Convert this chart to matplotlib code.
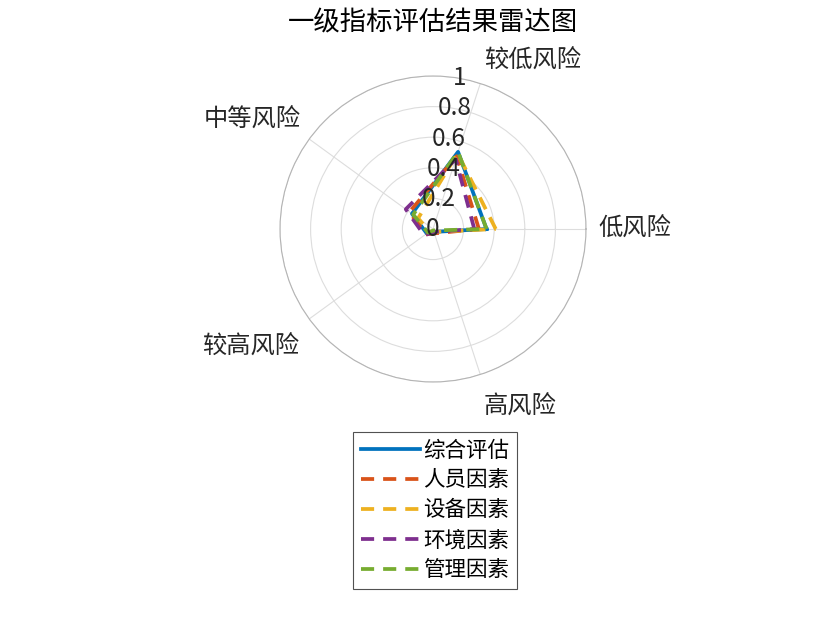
import numpy as np
import matplotlib
matplotlib.use("Agg")
import matplotlib.pyplot as plt

plt.rcParams['font.family'] = ['Noto Sans CJK SC', 'DejaVu Sans']

categories = ['低风险', '较低风险', '中等风险', '较高风险', '高风险']
series_names = ['综合评估', '人员因素', '设备因素', '环境因素', '管理因素']
v_overall = [0.35, 0.53, 0.17, 0.05, 0.02]
v_person = [0.30, 0.50, 0.19, 0.06, 0.03]
v_equip = [0.41, 0.52, 0.12, 0.03, 0.02]
v_env = [0.27, 0.48, 0.22, 0.07, 0.02]
v_mgmt = [0.35, 0.53, 0.16, 0.04, 0.01]
r_ticks = [0, 0.2, 0.4, 0.6, 0.8, 1]
r_tick_labels = ['0', '0.2', '0.4', '0.6', '0.8', '1']

colors = ['#0072BD', '#D95319', '#EDB120', '#7E2F8E', '#77AC30']
styles = ['-', '--', '--', '--', '--']
all_vals = [v_overall, v_person, v_equip, v_env, v_mgmt]

W, H = 840, 630
fig = plt.figure(figsize=(W / 100, H / 100), dpi=100)
cx, cy, R = 433, 229, 153
ax = fig.add_axes([(cx - R) / W, 1 - (cy + R) / H, 2 * R / W, 2 * R / H], projection='polar')

n = len(categories)
theta = np.linspace(0, 2 * np.pi, n, endpoint=False)
theta_closed = np.concatenate([theta, theta[:1]])

lines = []
for vals, c, ls, name in zip(all_vals, colors, styles, series_names):
    vv = np.concatenate([vals, vals[:1]])
    ln, = ax.plot(theta_closed, vv, color=c, linestyle=ls, linewidth=2.7, label=name)
    if ls == '--':
        ln.set_dashes((3.5, 2.4))
    lines.append(ln)

ax.set_ylim(0, 1)
ax.set_thetagrids(np.degrees(theta), [''] * n)
ax.set_rgrids(r_ticks[1:], [''] * (len(r_ticks) - 1))
ax.grid(True, color='#dddddd', linewidth=0.8)
ax.spines['polar'].set_color('#b4b4b4')
ax.spines['polar'].set_linewidth(0.8)
ax.tick_params(length=0)

# category labels
for t, lab in zip(theta, categories):
    c, s = np.cos(t), np.sin(t)
    ha = 'left' if c > 0.1 else ('right' if c < -0.1 else 'center')
    va = 'center' if abs(s) < 0.1 else ('bottom' if s > 0 else 'top')
    rr = 1.08 if abs(s) < 0.1 else (1.07 if s > 0 else 1.08)
    dy = 0 if s > -0.1 else -8
    ax.annotate(lab, xy=(t, rr), xytext=(0, dy), textcoords='offset pixels',
                ha=ha, va=va, fontsize=17.5, color='#262626', annotation_clip=False)

# radial labels at 80 degrees
for r, lab in zip(r_ticks, r_tick_labels):
    ax.text(np.radians(80), r, lab, ha='center', va='center', fontsize=17.5, color='#262626', clip_on=False)

fig.text(cx / W, 1 - 23 / H, '一级指标评估结果雷达图', ha='center', va='center', fontsize=19, color='black')

leg = fig.legend(handles=lines, loc='upper left', bbox_to_anchor=(353 / W, 1 - 432 / H),
                 fontsize=15.5, frameon=True, fancybox=False, edgecolor='#262626',
                 handlelength=2.75, handletextpad=0.15, labelspacing=0.37, borderpad=0.35,
                 borderaxespad=0)
leg.get_frame().set_linewidth(0.8)

fig.savefig('out.png', dpi=100)
